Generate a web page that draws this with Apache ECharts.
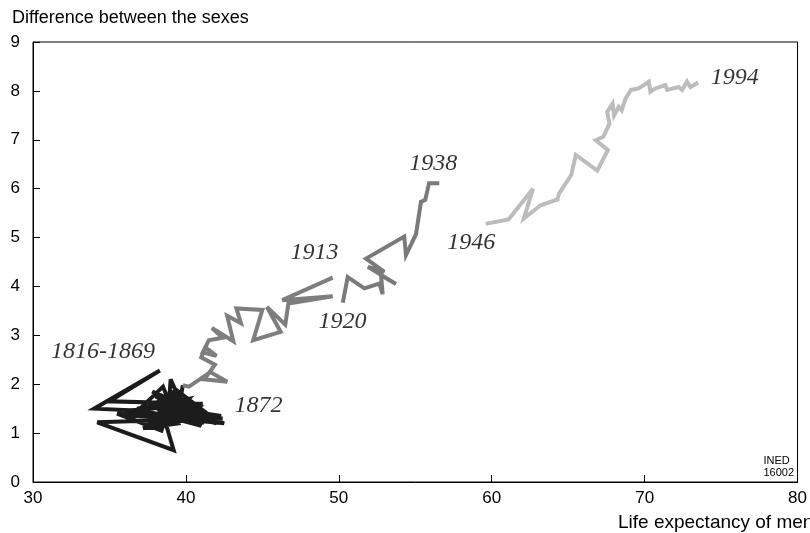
<!DOCTYPE html>
<html><head><meta charset="utf-8">
<script src="https://cdn.jsdelivr.net/npm/echarts@6/dist/echarts.min.js"></script>
<style>html,body{margin:0;padding:0;background:#fff}#c{width:810px;height:533px}</style>
</head><body><div id="c"></div>
<script>
// Life expectancy of men (x) vs difference between the sexes (y)
const period1816_1869 = [[37.5,1.45],[34.0,1.50],[38.3,2.28],[35.0,1.65],[41.1,1.60],[36.0,1.45],[42.4,1.30],[34.2,1.22],[39.2,0.65],[38.2,1.70],[38.8,1.15],[39.0,2.10],[40.0,1.40],[37.8,1.85],[42.2,1.25],[36.5,1.35],[38.5,1.95],[39.5,1.20],[37.2,1.10],[40.8,1.55],[38.0,1.75],[42.5,1.20],[35.5,1.40],[38.4,1.05],[39.3,1.90],[41.8,1.30],[37.9,1.60],[38.9,1.25],[40.2,1.70],[36.8,1.50],[41.0,1.15],[38.6,1.80],[39.7,1.25],[37.5,1.20],[42.3,1.35],[38.2,1.55],[40.5,1.20],[38.7,1.70],[41.5,1.25],[38.0,1.30],[39.4,1.60],[42.0,1.20],[38.6,1.45],[40.6,1.30],[39.0,1.85],[41.7,1.22],[39.2,1.40],[42.3,1.28],[39.6,1.55],[41.2,1.20],[39.3,1.70],[42.1,1.25],[39.5,1.45],[39.8,1.98]];
const period1870_1913 = [[39.8,1.98],[40.2,1.95],[41.6,2.25],[42.7,2.05],[41.2,2.10],[41.9,2.40],[41.0,2.55],[41.3,2.75],[42.0,2.58],[41.1,2.65],[41.5,2.90],[42.4,2.95],[41.7,3.15],[43.1,2.88],[42.7,3.40],[43.6,3.25],[43.3,3.55],[45.0,3.52],[44.4,2.90],[46.2,3.07],[45.3,3.58],[46.5,3.22],[46.7,3.65],[49.6,3.80],[46.3,3.72],[49.6,4.18]];
const period1920_1938 = [[50.26,3.67],[50.58,4.19],[51.67,3.96],[52.65,4.06],[52.87,3.84],[52.76,4.23],[53.74,4.05],[51.9,4.40],[52.98,4.30],[51.78,4.57],[54.28,5.02],[54.39,4.64],[55.05,5.07],[55.37,5.73],[55.65,5.77],[55.8,5.97],[55.9,6.11],[56.57,6.11]];
const period1946_1994 = [[59.6,5.28],[61.1,5.37],[62.7,6.00],[62.1,5.39],[63.2,5.66],[64.3,5.78],[64.4,5.90],[65.2,6.28],[65.5,6.69],[66.9,6.37],[67.6,6.79],[66.8,6.99],[67.3,7.06],[67.7,7.33],[67.55,7.57],[67.9,7.74],[68.0,7.50],[68.3,7.67],[68.5,7.60],[68.75,7.84],[69.1,8.02],[69.6,8.05],[69.95,8.12],[70.27,8.19],[70.38,7.98],[70.7,8.05],[71.36,8.12],[71.47,8.02],[72.23,8.08],[72.45,8.02],[72.77,8.19],[73.0,8.08],[73.5,8.17]];
const periodLabels = ['1816-1869','1872','1913','1920','1938','1946','1994'];
const labelCoords = [[34.57,2.66],[44.75,1.57],[48.41,4.70],[50.24,3.27],[56.18,6.52],[58.66,4.89],[75.9,8.28]];
const xTicks = [30,40,50,60,70,80];
const yTicks = [0,1,2,3,4,5,6,7,8,9];

const chart = echarts.init(document.getElementById('c'), null, {renderer:'canvas'});
const lw = 4;
function line(data, color){
  return {type:'line', data, showSymbol:false, symbol:'none', animation:false,
    lineStyle:{color, width:lw, join:'miter', miterLimit:4, cap:'butt'}, z:2};
}
chart.setOption({
  animation:false,
  grid:{left:33, right:11, top:42, bottom:51, show:true, borderColor:'#000', borderWidth:1, backgroundColor:'transparent'},
  xAxis:{type:'value', min:xTicks[0], max:xTicks[xTicks.length-1], interval:10,
    axisLine:{lineStyle:{color:'#000', width:1}},
    axisTick:{inside:true, length:7, lineStyle:{color:'#000'}},
    axisLabel:{color:'#000', fontFamily:'Liberation Sans', fontSize:17, margin:8},
    splitLine:{show:false}},
  yAxis:{type:'value', min:yTicks[0], max:yTicks[yTicks.length-1], interval:1,
    axisLine:{show:true, lineStyle:{color:'#000', width:1}},
    axisTick:{show:true, inside:true, length:7, lineStyle:{color:'#000'}},
    axisLabel:{color:'#000', fontFamily:'Liberation Sans', fontSize:17, margin:13},
    splitLine:{show:false}},
  graphic:[
    {type:'text', left:12, top:9, style:{text:'Difference between the sexes', fill:'#000', font:'18px "Liberation Sans"'}},
    {type:'text', left:618, top:513, style:{text:'Life expectancy of men', fill:'#000', font:'19px "Liberation Sans"'}},
    {type:'text', right:16, top:455, style:{text:'INED\n16002', fill:'#000', font:'11px "Liberation Sans"', align:'right', lineHeight:12}}
  ],
  series:[
    line(period1816_1869, '#1c1c1c'),
    line(period1870_1913, '#7e7e7e'),
    line(period1920_1938, '#7a7a7a'),
    line(period1946_1994, '#bcbcbc'),
    {type:'scatter', symbolSize:0, animation:false, z:5,
      data: periodLabels.map((n,i)=>({name:n, value:labelCoords[i]})),
      label:{show:true, position:'inside', formatter:p=>p.name, color:'#000',
        fontFamily:'Liberation Serif', fontStyle:'italic', fontSize:24}}
  ]
});
</script></body></html>
